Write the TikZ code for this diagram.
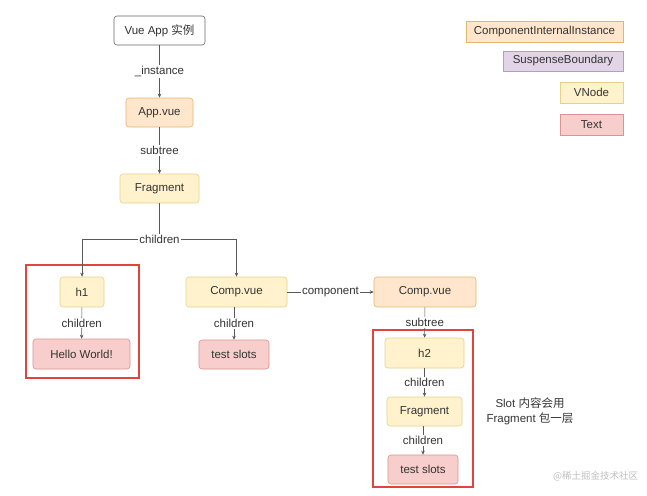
\documentclass[tikz,border=0pt]{standalone}
\usepackage{fontspec}
\setmainfont{Liberation Sans}
\newfontfamily\cjk{Noto Sans CJK SC}
\usepackage{xcolor}
\usetikzlibrary{positioning,arrows.meta}
\definecolor{instfill}{HTML}{FFE6CC}
\definecolor{instdraw}{HTML}{E3B66B}
\definecolor{vnodefill}{HTML}{FFF2CC}
\definecolor{vnodedraw}{HTML}{E6D08C}
\definecolor{suspfill}{HTML}{E1D5E7}
\definecolor{suspdraw}{HTML}{B49CC2}
\definecolor{txtfill}{HTML}{F8CECC}
\definecolor{txtdraw}{HTML}{D99490}
\definecolor{framered}{HTML}{E0443C}
\definecolor{inkgray}{HTML}{333333}

\begin{document}
\begin{tikzpicture}[x=1pt, y=-1pt,
  every node/.style={font=\fontsize{11.5}{13.5}\selectfont, text=inkgray},
  box/.style={rectangle, draw, line width=0.6pt, rounded corners=3pt,
              minimum height=29pt, inner sep=0pt},
  inst/.style={box, fill=instfill, draw=instdraw},
  vnode/.style={box, fill=vnodefill, draw=vnodedraw},
  txt/.style={box, fill=txtfill, draw=txtdraw},
  key/.style={rectangle, line width=0.6pt, minimum height=21pt, inner sep=0pt},
  flow/.style={-{Stealth[length=4pt,width=3.5pt]}, draw=black!65, line width=0.6pt},
  lbl/.style={fill=white, inner sep=1pt},
  frame/.style={draw=framered, line width=1.4pt, inner sep=0pt}
]
\useasboundingbox (0,0) rectangle (647,495);
% main tree
\node[box, draw=black!60, fill=white, minimum width=91pt] (vue) at (159.5,30.5) {Vue App {\cjk 实例}};
\node[inst, minimum width=67pt]  (app)  at (159.5,112.5) {App.vue};
\node[vnode, minimum width=79pt] (frag) at (159.5,188.5) {Fragment};
\coordinate (split) at (159.5,239);
\node[vnode, minimum width=44pt, minimum height=30pt]  (h1)     at (82,292)    {h1};
\node[txt, minimum width=97pt, minimum height=30pt]    (hello)  at (81.5,354)  {Hello World!};
\node[vnode, minimum width=101pt, minimum height=30pt] (comp)   at (236.5,292) {Comp.vue};
\node[txt, minimum width=70pt]                         (slotsA) at (234,354.5) {test slots};
\node[inst, minimum width=102pt, minimum height=30pt]  (compi)  at (425,292)   {Comp.vue};
\node[vnode, minimum width=79pt, minimum height=30pt]  (h2)     at (424.5,353) {h2};
\node[vnode, minimum width=75pt]                       (fragB)  at (424.5,411.5) {Fragment};
\node[txt, minimum width=70pt]                         (slotsB) at (423,469.5) {test slots};
% red frames
\node[frame, minimum width=113pt, minimum height=113pt] (frameA) at (82.5,321.5) {};
\node[frame, minimum width=100pt, minimum height=157pt] (frameB) at (423,408.5) {};
\draw[flow] (vue) -- node[lbl] {\_instance} (app);
\draw[flow] (app) -- node[lbl] {subtree} (frag);
\draw[draw=black!65, line width=0.6pt] (frag) -- (split);
\draw[flow] (split) -| (h1);
\draw[flow] (split) -| (comp);
\node[lbl] (splitlbl) at (split) {children};
\draw[flow] (h1) -- node[lbl] {children} (hello);
\draw[flow] (slotsA |- comp.south) -- node[lbl] {children} (slotsA);
\draw[flow] (comp) -- node[lbl] {component} (compi);
\draw[flow] (compi) -- node[lbl] {subtree} (h2);
\draw[flow] (h2) -- node[lbl] {children} (fragB);
\draw[flow] (slotsB |- fragB.south) -- node[lbl] {children} (slotsB);
% legend
\node[key, fill=instfill, draw=instdraw, minimum width=157pt] (keyinst) at (544.5,31.5) {ComponentInternalInstance};
\node[key, fill=suspfill, draw=suspdraw, minimum width=120pt, minimum height=20pt] (keysusp) at (563,61) {SuspenseBoundary};
\node[key, fill=vnodefill, draw=vnodedraw, minimum width=63pt] (keyvnode) at (591.5,92.5) {VNode};
\node[key, fill=txtfill, draw=txtdraw, minimum width=63pt] (keytext) at (591.5,124.5) {Text};
% note on the slot wrapper
\node[align=center, font=\fontsize{11.5}{15}\selectfont] (note) at (530,411.5)
  {Slot {\cjk 内容会用}\\Fragment {\cjk 包一层}};
\node[text=black!25, font=\cjk\fontsize{9.5}{11}\selectfont] (mark) at (595.5,476) {@稀土掘金技术社区};
\end{tikzpicture}
\end{document}
